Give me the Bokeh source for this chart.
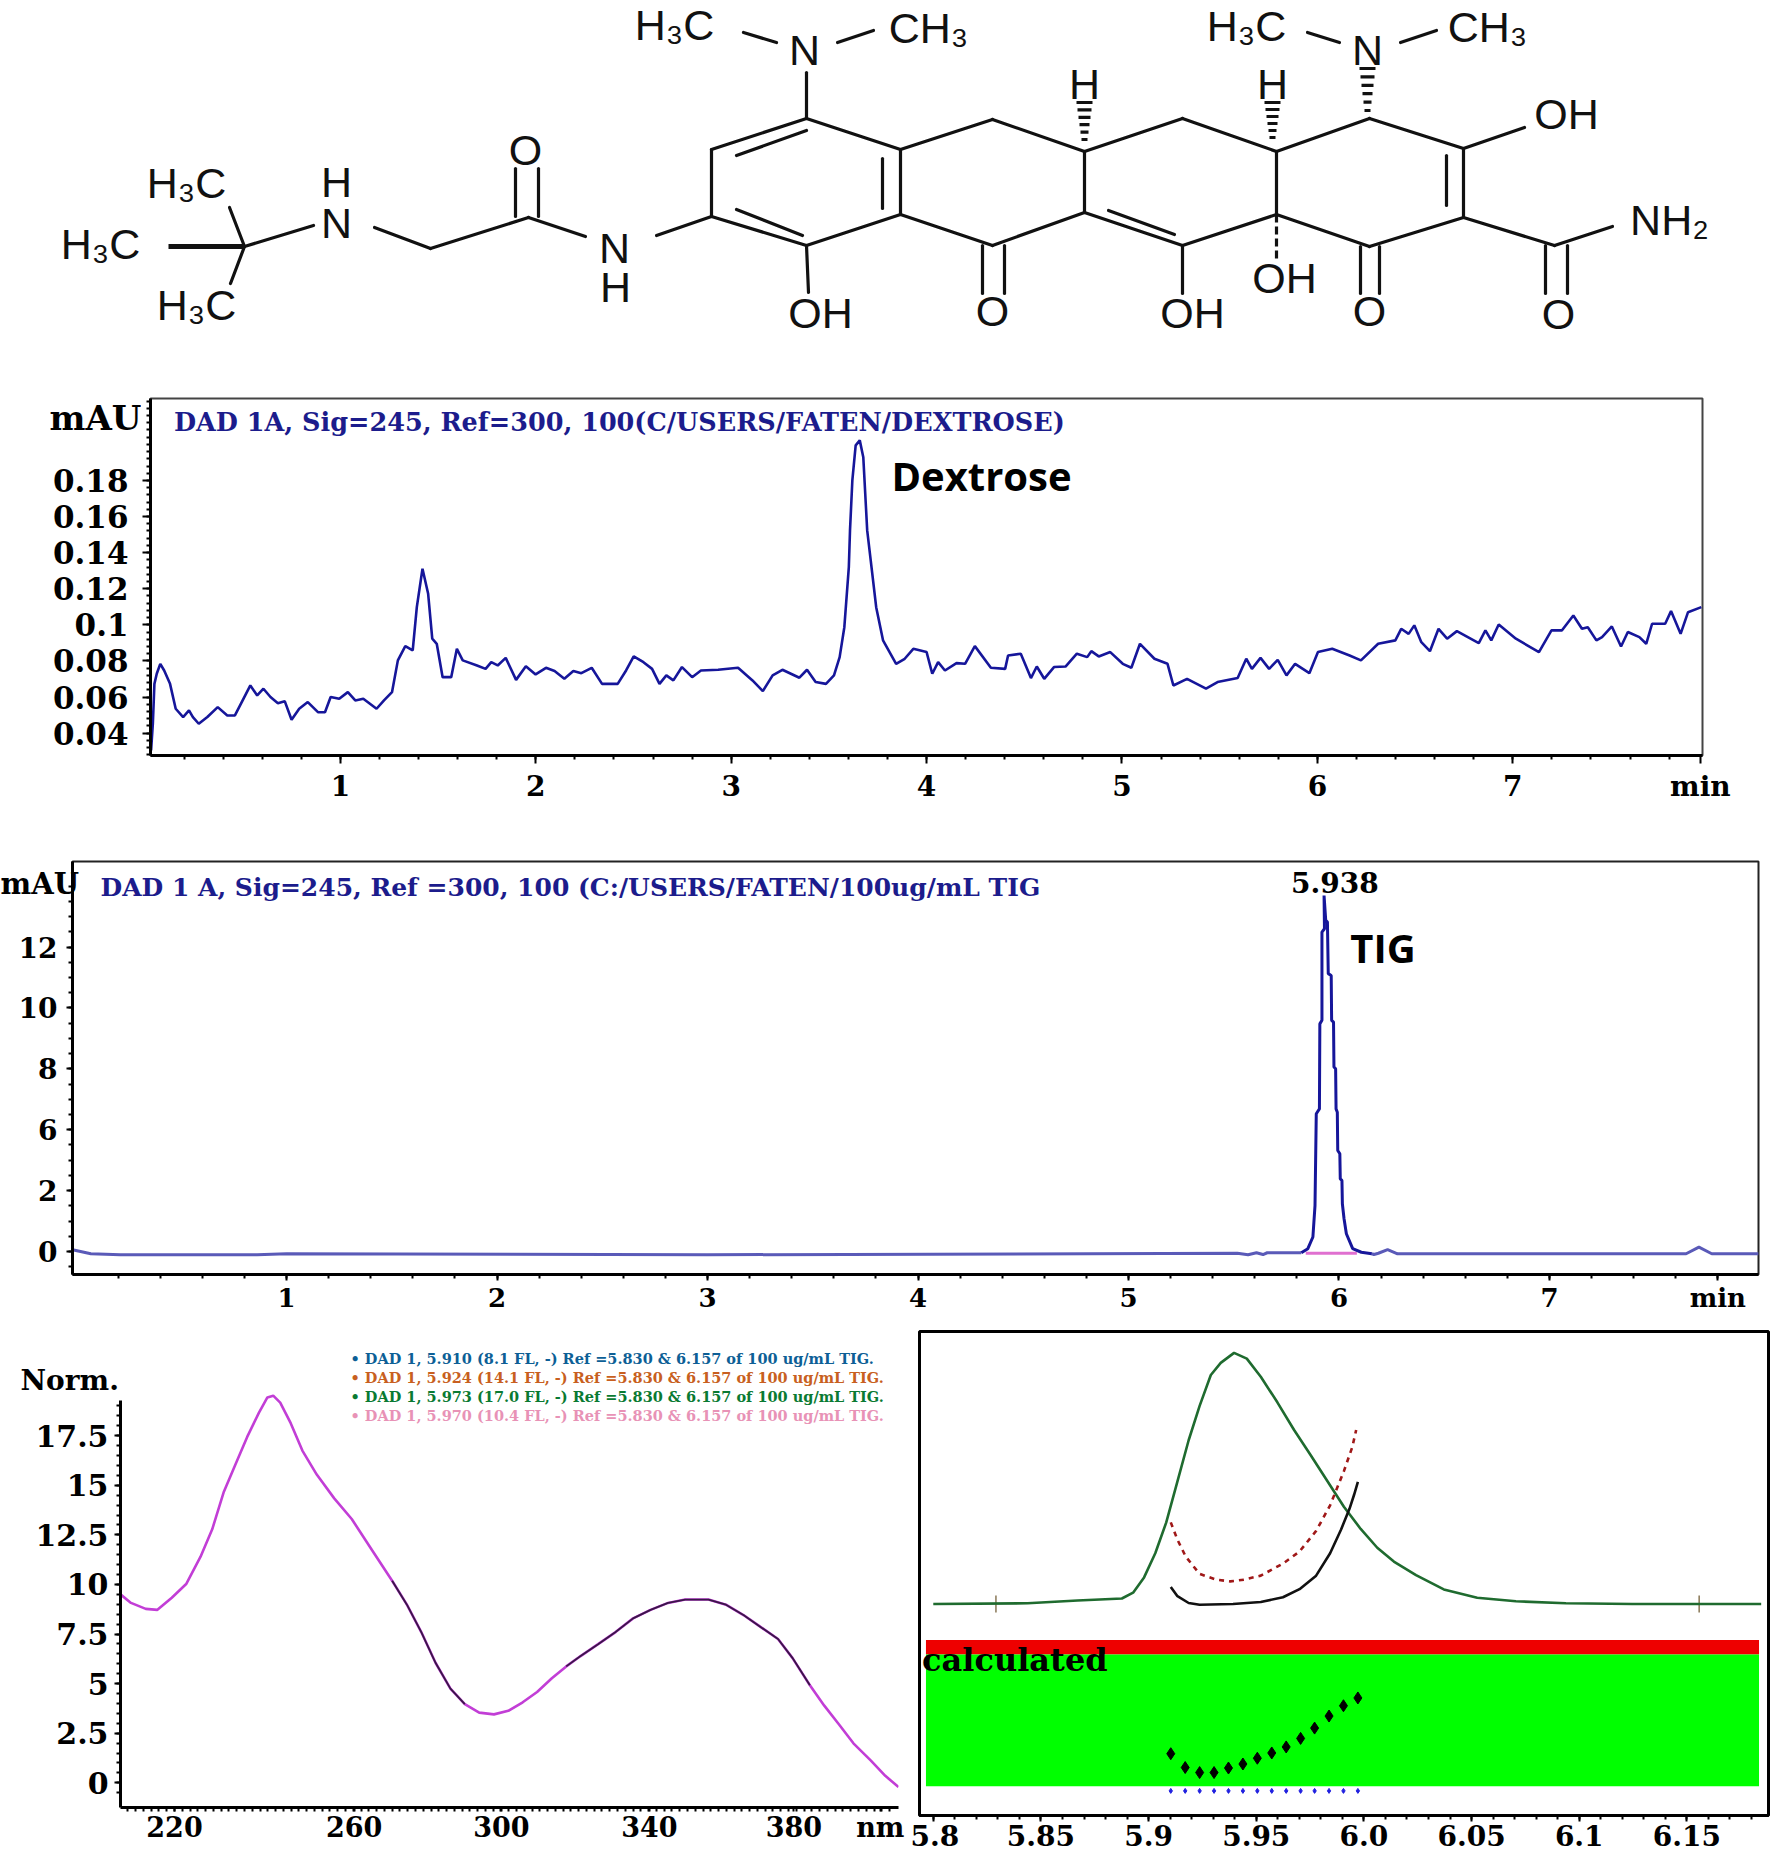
from bokeh.plotting import figure
from bokeh.models import Range1d, FixedTicker
from bokeh.core.properties import value
from bokeh.embed import file_html
from bokeh.resources import INLINE

SERIF = "DejaVu Serif"
NAVY = "#16169a"

# ---------- molecule (layout units) ----------
bonds = [
    (244, 246, 229, 207), (244, 246, 230, 283), (244, 246, 313, 225),
    (374, 227, 430, 248), (430, 248, 528, 217), (515, 168, 515, 216), (538, 168, 538, 216),
    (528, 217, 585, 236), (656, 235, 711, 216),
    (711, 216, 711, 149), (711, 149, 806, 118), (806, 118, 900, 149), (900, 149, 900, 214),
    (900, 214, 806, 245), (806, 245, 711, 216),
    (736, 155, 806, 130), (736, 209, 802, 235), (882, 158, 882, 208),
    (806, 72, 806, 118), (743, 32, 776, 42), (837, 42, 873, 30), (806, 245, 808, 292),
    (900, 149, 992, 119), (992, 119, 1084, 151), (1084, 151, 1084, 212), (1084, 212, 992, 245),
    (992, 245, 900, 214), (982, 245, 982, 293), (1004, 245, 1004, 293),
    (1084, 151, 1182, 118), (1182, 118, 1276, 151), (1276, 151, 1276, 214), (1276, 214, 1182, 245),
    (1182, 245, 1084, 212), (1108, 210, 1174, 234), (1182, 245, 1182, 293),
    (1276, 151, 1369, 118), (1369, 118, 1463, 148), (1463, 148, 1463, 217), (1463, 217, 1369, 246),
    (1369, 246, 1276, 214), (1446, 155, 1446, 205), (1360, 246, 1360, 293), (1379, 246, 1379, 293),
    (1463, 217, 1554, 245), (1554, 245, 1612, 226), (1545, 245, 1545, 293), (1567, 245, 1567, 293),
    (1463, 148, 1524, 127), (1307, 32, 1339, 42), (1400, 42, 1436, 30),
]
heavy_bond = (168, 246, 244, 246)
dashed_bond = (1276, 214, 1276, 260)
hash_bonds = [(1084, 139, 102), (1272, 137, 102), (1367, 110, 68)]
atom_labels = [
    ("H₃C", 186, 182), ("H₃C", 100, 243), ("H₃C", 196, 304), ("H", 336, 181), ("N", 336, 222),
    ("O", 525, 149), ("N", 614, 247), ("H", 615, 286), ("H₃C", 674, 24), ("N", 804, 49),
    ("CH₃", 928, 27), ("OH", 820, 312), ("O", 992, 310), ("H", 1084, 83), ("H", 1272, 83),
    ("OH", 1192, 312), ("OH", 1284, 277), ("O", 1369, 310), ("O", 1558, 313), ("NH₂", 1669, 219),
    ("OH", 1566, 113), ("H₃C", 1246, 25), ("N", 1367, 49), ("CH₃", 1487, 26),
]

# ---------- Dextrose chromatogram ----------
dex_t = [0.031,0.040,0.048,0.060,0.078,0.098,0.128,0.157,0.195,0.225,0.245,0.275,0.319,0.372,0.421,0.460,0.495,0.539,0.574,0.606,
         0.642,0.680,0.715,0.750,0.789,0.833,0.885,0.921,0.950,0.994,1.038,1.076,1.117,1.185,1.223,1.264,1.294,1.332,1.370,1.391,
         1.420,1.449,1.470,1.493,1.523,1.567,1.596,1.626,1.699,1.743,1.772,1.805,1.846,1.899,1.949,1.999,2.052,2.096,2.146,2.192,
         2.233,2.286,2.339,2.419,2.462,2.501,2.551,2.595,2.633,2.668,2.704,2.748,2.800,2.845,2.933,3.035,3.109,3.162,3.212,3.262,
         3.349,3.388,3.432,3.485,3.526,3.555,3.579,3.602,3.608,3.620,3.637,3.658,3.676,3.696,3.726,3.742,3.777,3.844,
         3.888,3.932,4.000,4.029,4.059,4.094,4.153,4.197,4.247,4.329,4.402,4.417,4.482,4.534,4.564,4.602,4.652,4.711,4.769,4.822,
         4.843,4.881,4.940,5.004,5.048,5.092,5.166,5.233,5.263,5.333,5.430,5.489,5.592,5.636,5.665,5.709,5.753,5.797,5.842,5.886,
         5.959,6.003,6.076,6.165,6.223,6.311,6.399,6.429,6.467,6.496,6.532,6.576,6.620,6.664,6.714,6.826,6.860,6.890,6.928,7.016,
         7.134,7.198,7.251,7.310,7.354,7.384,7.428,7.457,7.507,7.554,7.589,7.648,7.683,7.713,7.780,7.810,7.859,7.897,7.965]
dex_v = [0.0304,0.0452,0.0673,0.0729,0.0784,0.0747,0.0673,0.0535,0.0489,0.0526,0.0489,0.0452,0.0489,0.0544,0.0498,0.0498,0.0572,0.0664,0.0609,0.0646,
         0.0600,0.0566,0.0577,0.0474,0.0535,0.0572,0.0516,0.0516,0.0600,0.0590,0.0627,0.0581,0.0590,0.0535,0.0581,0.0627,0.0803,0.0882,0.0858,0.1098,
         0.1311,0.1172,0.0923,0.0895,0.0710,0.0710,0.0867,0.0803,0.0775,0.0756,0.0793,0.0775,0.0817,0.0695,0.0771,0.0725,0.0762,0.0744,0.0701,0.0744,
         0.0732,0.0762,0.0673,0.0673,0.0747,0.0825,0.0793,0.0756,0.0673,0.0720,0.0692,0.0766,0.0710,0.0747,0.0751,0.0762,0.0692,0.0633,0.0720,0.0751,
         0.0707,0.0751,0.0683,0.0673,0.0720,0.0821,0.0987,0.1320,0.1523,0.1800,0.1994,0.2022,0.1929,0.1523,0.1246,0.1098,0.0914,0.0784,
         0.0812,0.0867,0.0849,0.0729,0.0793,0.0747,0.0788,0.0784,0.0882,0.0762,0.0756,0.0830,0.0840,0.0705,0.0769,0.0701,0.0766,0.0769,0.0840,0.0821,
         0.0854,0.0825,0.0849,0.0784,0.0762,0.0895,0.0812,0.0784,0.0664,0.0701,0.0646,0.0683,0.0705,0.0812,0.0756,0.0817,0.0756,0.0806,0.0720,0.0784,
         0.0732,0.0849,0.0867,0.0830,0.0803,0.0895,0.0914,0.0978,0.0950,0.0997,0.0904,0.0854,0.0978,0.0923,0.0965,0.0899,0.0969,0.0914,0.1002,0.0923,
         0.0849,0.0969,0.0969,0.1052,0.0978,0.0987,0.0914,0.0932,0.0991,0.0880,0.0960,0.0932,0.0895,0.1006,0.1006,0.1076,0.0950,0.1070,0.1098]
dex_yticks = [0.18, 0.16, 0.14, 0.12, 0.1, 0.08, 0.06, 0.04]
dex_ylabels = ["0.18", "0.16", "0.14", "0.12", "0.1", "0.08", "0.06", "0.04"]
dex_title = "DAD 1A, Sig=245, Ref=300, 100(C/USERS/FATEN/DEXTROSE)"

# ---------- TIG chromatogram ----------
tig_base_t = [-0.017,0.07,0.21,0.86,1.0,3.0,5.517,5.568,5.608,5.639,5.659,5.821]
tig_base_v = [0.07,-0.09,-0.13,-0.13,-0.09,-0.13,-0.07,-0.13,-0.05,-0.12,-0.05,-0.05]
tig_peak_t = [5.821,5.852,5.876,5.886,5.892,5.907,5.909,5.919,5.919,5.931,5.929,5.937,5.945,5.949,5.963,5.965,5.974,5.976,5.984,5.986,
              5.992,5.994,6.004,6.006,6.014,6.016,6.024,6.035,6.065,6.106,6.156]
tig_peak_v = [-0.05,0.11,0.57,1.81,5.43,5.62,8.97,9.11,12.59,12.72,14.03,13.05,12.98,10.95,10.88,9.11,9.04,7.27,7.20,5.62,
              5.49,3.98,3.85,2.86,2.80,1.88,1.29,0.70,0.11,-0.03,-0.09]
tig_tail_t = [6.156,6.166,6.187,6.231,6.278,7.649,7.71,7.771,7.994]
tig_tail_v = [-0.09,-0.12,-0.07,0.07,-0.09,-0.09,0.17,-0.09,-0.09]
tig_int_t = [5.842, 6.085]
tig_int_v = [-0.07, -0.07]
tig_yticks = [0, 2.4, 4.8, 7.2, 9.6, 12]
tig_ylabels = ["0", "2", "6", "8", "10", "12"]
tig_title = "DAD 1 A, Sig=245, Ref =300, 100 (C:/USERS/FATEN/100ug/mL TIG"

# ---------- UV spectrum ----------
spec_nm = [206.1,208.8,212.6,215.6,219.3,223.0,226.7,229.7,232.7,235.7,238.7,241.7,243.9,245.4,247.2,249.9,252.9,256.6,261.1,265.6,
           270.8,276.0,279.8,283.5,287.2,291.0,294.7,298.4,302.2,305.9,309.6,313.3,317.1,320.8,324.5,329.0,333.5,338.0,342.5,347.0,
           351.4,357.4,361.9,366.4,370.8,375.3,379.0,383.5,387.2,391.0,394.7,399.2,402.9,406.3]
spec_v = [9.50,9.07,8.77,8.72,9.33,10.02,11.40,12.78,14.68,16.06,17.44,18.65,19.43,19.52,19.17,18.13,16.75,15.54,14.34,13.30,
          11.74,10.19,8.98,7.60,6.04,4.75,3.97,3.54,3.45,3.63,4.06,4.58,5.27,5.87,6.39,6.99,7.60,8.29,8.72,9.07,
          9.24,9.24,8.98,8.46,7.86,7.25,6.30,4.92,3.89,2.94,1.99,1.12,0.35,-0.21]
spec_yticks = [0, 2.5, 5, 7.5, 10, 12.5, 15, 17.5]
spec_ylabels = ["0", "2.5", "5", "7.5", "10", "12.5", "15", "17.5"]
spec_xticks = [220, 266.2, 304.1, 342.2, 379.4, 401.6]
spec_xlabels = ["220", "260", "300", "340", "380", "nm"]
legend_text = ["• DAD 1, 5.910 (8.1 FL, -) Ref =5.830 & 6.157 of 100 ug/mL TIG.",
               "• DAD 1, 5.924 (14.1 FL, -) Ref =5.830 & 6.157 of 100 ug/mL TIG.",
               "• DAD 1, 5.973 (17.0 FL, -) Ref =5.830 & 6.157 of 100 ug/mL TIG.",
               "• DAD 1, 5.970 (10.4 FL, -) Ref =5.830 & 6.157 of 100 ug/mL TIG."]
legend_color = ["#0d5f96", "#c85f20", "#0a7a32", "#e892b6"]
legend_y = [21.4, 20.44, 19.48, 18.52]

# ---------- peak purity ----------
pur_t = [5.8,5.8438,5.867,5.8876,5.8928,5.8979,5.9031,5.9082,5.9134,5.9186,5.9237,5.9289,5.9335,5.9397,5.9456,5.9521,5.9598,5.9675,5.9753,5.983,
         5.9907,5.9985,6.0062,6.0139,6.0242,6.0371,6.0526,6.0706,6.0938,6.1247,6.1845]
pur_v = [0,0.3,1.4,2.2,4.5,10.6,20.2,32.5,48.8,65.2,78.9,91.2,96.0,100,97.7,90.5,80.3,69.4,59.2,49.0,
         38.7,29.9,22.4,16.9,11.5,5.8,2.5,1.1,0.3,0,0]
sim_t = [5.9103,5.9134,5.9186,5.9237,5.9392,5.9521,5.9624,5.9701,5.9778,5.9843,5.9894,5.9933,5.9954,5.9972]
sim_v = [6.8,3.1,0.4,-0.3,0,0.8,2.7,5.9,11.3,20.2,29.7,37.9,43.4,48.6]
thr_t = [5.9103,5.9134,5.9173,5.9237,5.9314,5.9379,5.9443,5.9521,5.9624,5.9701,5.9778,5.9843,5.9907,5.9946,5.9964]
thr_v = [32.5,25.6,18.8,12.0,9.7,9.0,9.7,11.3,16.1,20.9,29.1,39.3,52.9,62.5,69.3]
dot_t = [5.9103,5.9170,5.9237,5.9304,5.9371,5.9438,5.9505,5.9572,5.9639,5.9706,5.9771,5.9838,5.9905,5.9972]
dot_v = [-59.6,-65.1,-67.1,-67.1,-65.3,-63.7,-61.4,-59.3,-56.9,-53.5,-49.4,-44.6,-40.5,-37.4]
blue_v = [-74.4] * 14
ref_t = [5.8291, 6.1557]
pur_xticks = [5.8, 5.85, 5.9, 5.95, 6.0, 6.05, 6.1, 6.15]
pur_xlabels = ["5.8", "5.85", "5.9", "5.95", "6.0", "6.05", "6.1", "6.15"]
band_left, band_right = 5.7966, 6.1835
red_band = (-14.3, -20.05)
green_band = (-20.05, -72.6)


def place(left, top):
    return {"position": "absolute", "left": f"{left}px", "top": f"{top}px"}


def base(w, h, xr, yr, l, r, t, b, left, top):
    p = figure(width=w, height=h, x_range=Range1d(*xr), y_range=Range1d(*yr), output_backend="svg",
               toolbar_location=None, min_border_left=l, min_border_right=r, min_border_top=t, min_border_bottom=b,
               styles=place(left, top))
    p.grid.visible = False
    p.background_fill_color = "white"
    p.border_fill_color = "white"
    return p


def style_axis(ax, ticks, labels, minor, size, standoff, tick_out=8):
    ax.ticker = FixedTicker(ticks=ticks, minor_ticks=minor)
    ax.major_label_overrides = dict(zip(ticks, labels))
    ax.major_label_text_font = SERIF
    ax.major_label_text_font_style = "bold"
    ax.major_label_text_font_size = size
    ax.major_label_text_color = "black"
    ax.major_label_standoff = standoff
    ax.major_tick_in = 0
    ax.major_tick_out = tick_out
    ax.major_tick_line_color = "black"
    ax.major_tick_line_width = 2
    ax.minor_tick_in = 0
    ax.minor_tick_out = 4
    ax.minor_tick_line_color = "black"
    ax.minor_tick_line_width = 2
    ax.axis_line_color = "black"
    ax.axis_line_width = 3


def note(p, x, y, txt, size, font=SERIF, color="black", style="bold", align="left"):
    p.text(x=[x], y=[y], text=[txt], text_font=value(font), text_font_size=size, text_font_style=style,
           text_color=color, text_align=align, text_baseline="middle")


def tag(txt, left, top, w, h, size, align="left"):
    # small transparent figure that carries an axis caption lying outside a plot frame
    t = figure(width=w, height=h, x_range=Range1d(0, 1), y_range=Range1d(0, 1), x_axis_type=None, y_axis_type=None,
               output_backend="svg", toolbar_location=None, min_border=0, styles=place(left, top))
    t.grid.visible = False
    t.outline_line_color = None
    t.background_fill_color = None
    t.border_fill_color = None
    note(t, 0 if align == "left" else 1, 0.5, txt, size, align=align)
    return t


# molecule
a = figure(width=1770, height=380, x_range=Range1d(0, 1770), y_range=Range1d(380, 0), x_axis_type=None, y_axis_type=None,
           output_backend="svg", toolbar_location=None, min_border=0, styles=place(0, 0))
a.grid.visible = False
a.outline_line_color = None
a.segment(x0=[b[0] for b in bonds], y0=[b[1] for b in bonds], x1=[b[2] for b in bonds], y1=[b[3] for b in bonds],
          line_color="#111111", line_width=3.2, line_cap="round")
a.segment(x0=[heavy_bond[0]], y0=[heavy_bond[1]], x1=[heavy_bond[2]], y1=[heavy_bond[3]], line_color="#111111", line_width=5)
a.segment(x0=[dashed_bond[0]], y0=[dashed_bond[1]], x1=[dashed_bond[2]], y1=[dashed_bond[3]], line_color="#111111",
          line_width=3.2, line_dash="8 4")
for hx, y0, y1 in hash_bonds:
    n = 6
    ys = [y0 + (y1 - y0) * i / (n - 1) for i in range(n)]
    hw = [3 + 5 * i / (n - 1) for i in range(n)]
    a.segment(x0=[hx - w for w in hw], x1=[hx + w for w in hw], y0=ys, y1=ys, line_color="#111111", line_width=3.2)
a.text(x=[t[1] for t in atom_labels], y=[t[2] for t in atom_labels], text=[t[0] for t in atom_labels],
       text_font=value("Liberation Sans"), text_font_size="43px", text_color="#111111",
       text_align="center", text_baseline="middle")

# dextrose
b = base(1770, 450, (0.028, 7.971), (0.0276, 0.2254), 150, 68, 18, 75, 0, 380)
b.outline_line_color = "#444444"
b.outline_line_width = 2
b.line(dex_t, dex_v, line_color=NAVY, line_width=2.6)
style_axis(b.yaxis[0], dex_yticks, dex_ylabels, [0.028 + 0.004 * i for i in range(50)], "31px", 14)
style_axis(b.xaxis[0], [1, 2, 3, 4, 5, 6, 7, 7.96], ["1", "2", "3", "4", "5", "6", "7", "min"],
           [0.2 * i for i in range(1, 40)], "28px", 6)
note(b, 0.148, 0.2124, dex_title, "25.5px", color="#1c1c8c")
note(b, 3.82, 0.1828, "Dextrose", "40px", font="Open Sans")

# TIG
c = base(1770, 490, (-0.017, 7.993), (-0.907, 15.37), 72, 12, 31, 46, 0, 830)
c.outline_line_color = "#222222"
c.outline_line_width = 2
c.line(tig_base_t, tig_base_v, line_color="#5a5ab8", line_width=3)
c.line(tig_tail_t, tig_tail_v, line_color="#5a5ab8", line_width=3)
c.line(tig_int_t, tig_int_v, line_color="#e070d0", line_width=3)
c.line(tig_peak_t, tig_peak_v, line_color=NAVY, line_width=3)
style_axis(c.yaxis[0], tig_yticks, tig_ylabels, [-0.6 + 0.6 * i for i in range(26)], "28px", 9, tick_out=6)
style_axis(c.xaxis[0], [1, 2, 3, 4, 5, 6, 7, 7.8], ["1", "2", "3", "4", "5", "6", "7", "min"],
           [0.2 * i for i in range(1, 40)], "26px", 2, tick_out=6)
note(c, 0.116, 14.35, tig_title, "25px", color="#1c1c8c")
note(c, 5.98, 14.54, "5.938", "28px", align="center")
note(c, 6.054, 11.98, "TIG", "40px", font="Open Sans")

# spectrum
d = base(910, 537, (206.1, 406.3), (-1.245, 22.3), 120, 12, 20, 50, 0, 1320)
d.outline_line_color = None
d.line(spec_nm, spec_v, line_color="#c23ed6", line_width=2.6)
for lo, hi in [(276, 296), (320, 386)]:
    sx = [x for x in spec_nm if lo <= x <= hi]
    sy = [v for x, v in zip(spec_nm, spec_v) if lo <= x <= hi]
    d.line(sx, sy, line_color="#3a1848", line_width=1.8)
style_axis(d.yaxis[0], spec_yticks, spec_ylabels, [-0.5 + 0.5 * i for i in range(40)], "30px", 6, tick_out=6)
style_axis(d.xaxis[0], spec_xticks, spec_xlabels, [206 + 2 * i for i in range(100)], "27px", 0, tick_out=4)
d.yaxis[0].bounds = (-1.245, 19.3)
d.text(x=[265.3] * 4, y=legend_y, text=legend_text, text_color=legend_color, text_font=value(SERIF),
       text_font_size="14.5px", text_font_style="bold", text_align="left", text_baseline="middle")

# peak purity
e = base(860, 537, (5.7936, 6.1879), (-84.2, 108.5), 9, 2, 11, 42, 910, 1320)
e.yaxis.visible = False
e.outline_line_color = "black"
e.outline_line_width = 3
e.quad(left=[band_left], right=[band_right], top=[red_band[0]], bottom=[red_band[1]], fill_color="#ee0000", line_color=None)
e.quad(left=[band_left], right=[band_right], top=[green_band[0]], bottom=[green_band[1]], fill_color="#00ff00", line_color=None)
e.segment(x0=ref_t, x1=ref_t, y0=[-3.4, -3.4], y1=[3.4, 3.4], line_color="#887755", line_width=1.5)
e.line(pur_t, pur_v, line_color="#1f6b2f", line_width=2.6)
e.line(sim_t, sim_v, line_color="#111111", line_width=2.6)
e.line(thr_t, thr_v, line_color="#a01818", line_width=2.6, line_dash="5 5")
e.scatter(dot_t, dot_v, marker="diamond", size=12, fill_color="black", line_color="black")
e.scatter(dot_t, blue_v, marker="diamond", size=5, fill_color="#2020e0", line_color="#2020e0")
style_axis(e.xaxis[0], pur_xticks, pur_xlabels, [5.8 + 0.01 * i for i in range(39)], "28px", 3, tick_out=6)
note(e, 5.7948, -22.1, "calculated", "32px")

# captions outside the plot frames
mau_b = tag("mAU", 40, 397, 101, 40, "34px", align="right")
mau_c = tag("mAU", 0, 863, 85, 40, "29px")
norm_d = tag("Norm.", 20, 1360, 100, 40, "28px")

open("out.html", "w").write(file_html([a, b, c, d, e, mau_b, mau_c, norm_d], INLINE))
